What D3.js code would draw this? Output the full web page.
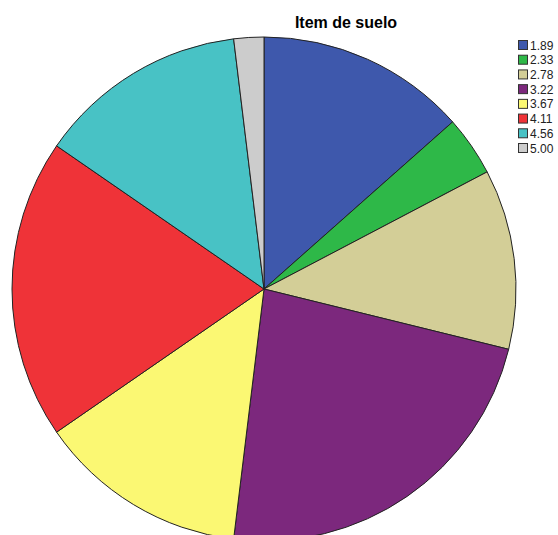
<!DOCTYPE html>
<html>
<head>
<meta charset="utf-8">
<script src="https://cdn.jsdelivr.net/npm/d3@7"></script>
<style>
  body { margin: 0; background: #fff; }
  svg { display: block; }
</style>
</head>
<body>
<svg id="chart"></svg>
<script>
var categories = ['1.89', '2.33', '2.78', '3.22', '3.67', '4.11', '4.56', '5.00'];
var counts = [7, 2, 6, 12, 7, 10, 7, 1];
var colors = ['#3E58AC', '#2EB848', '#D3CE97', '#7C287D', '#FBF873', '#EF3338', '#48C2C5', '#CCCCCC'];
var title = 'Item de suelo';

var width = 558,
    height = 535,
    cx = 264,
    cy = 289,
    radius = 252;

var data = categories.map(function(c, i) { return {label: c, value: counts[i]}; });

var svg = d3.select('#chart')
    .attr('width', width)
    .attr('height', height);

var color = d3.scaleOrdinal().domain(categories).range(colors);

var pie = d3.pie()
    .sort(null)
    .value(function(d) { return d.value; });

var arc = d3.arc()
    .innerRadius(0)
    .outerRadius(radius);

svg.append('g')
    .attr('transform', 'translate(' + cx + ',' + cy + ')')
    .selectAll('path')
    .data(pie(data))
    .enter().append('path')
    .attr('d', arc)
    .attr('fill', function(d) { return color(d.data.label); })
    .attr('stroke', '#222')
    .attr('stroke-width', 1)
    .attr('stroke-linejoin', 'round');

svg.append('text')
    .attr('x', 346)
    .attr('y', 28)
    .attr('text-anchor', 'middle')
    .style('font-family', 'Arial, "Liberation Sans", sans-serif')
    .style('font-weight', 'bold')
    .style('font-size', '16px')
    .text(title);

// legend
var legendY = d3.scalePoint().domain(categories).range([45, 148]);

var legend = svg.append('g')
    .selectAll('g')
    .data(categories)
    .enter().append('g')
    .attr('transform', function(d) { return 'translate(518,' + legendY(d) + ')'; });

legend.append('rect')
    .attr('x', 0.5)
    .attr('y', -4.5)
    .attr('width', 9)
    .attr('height', 9)
    .attr('fill', function(d) { return color(d); })
    .attr('stroke', '#333')
    .attr('stroke-width', 1);

legend.append('text')
    .attr('x', 12)
    .attr('y', 4.5)
    .style('font-family', 'Arial, "Liberation Sans", sans-serif')
    .style('font-size', '12px')
    .style('fill', '#222')
    .text(function(d) { return d; });
</script>
</body>
</html>
